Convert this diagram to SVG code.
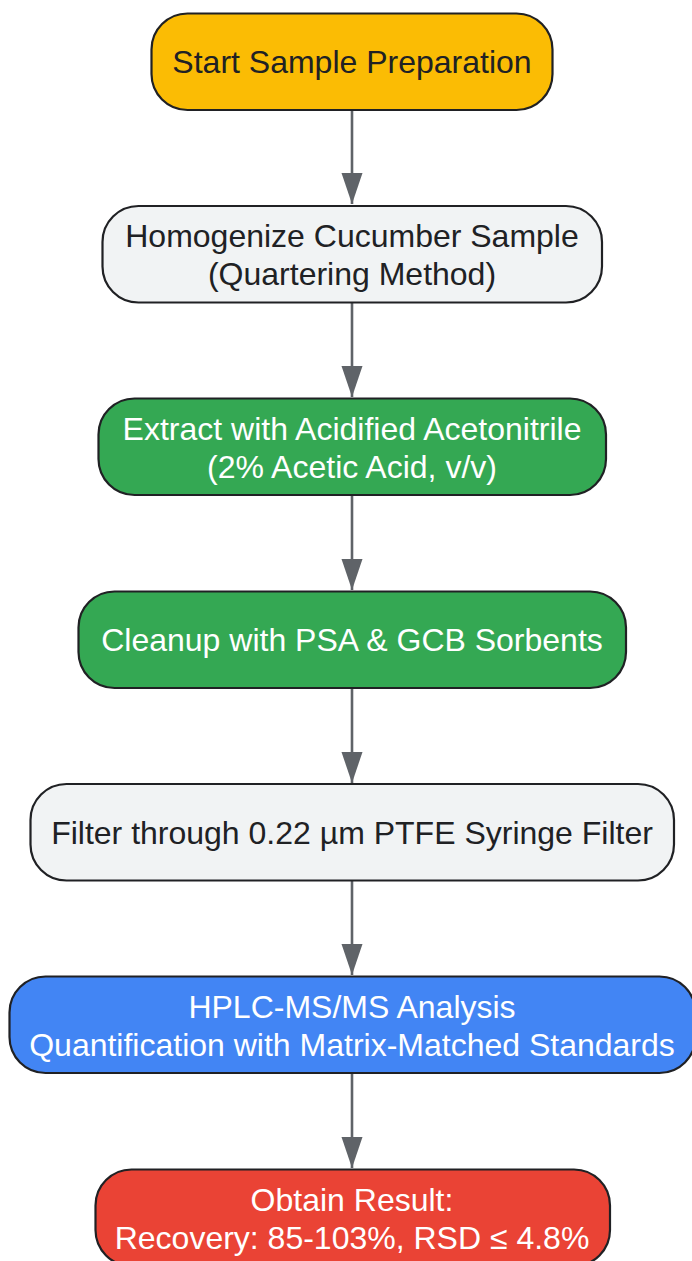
<svg xmlns="http://www.w3.org/2000/svg" width="692" height="1261" viewBox="0 0 692 1261">
<style>
.node rect{stroke:#202124;stroke-width:2.2}
.node text{font-family:"Liberation Sans",Arial,sans-serif;font-size:32px;text-anchor:middle}
.dark{fill:#202124}
.light{fill:#ffffff}
.edge{stroke:#5F6368;stroke-width:2.6;fill:none;marker-end:url(#arr)}
</style>
<defs>
<marker id="arr" markerUnits="userSpaceOnUse" markerWidth="32" markerHeight="22" refX="31" refY="10.5" orient="auto" viewBox="0 0 32 22">
<path d="M0,0 L31,10.5 L0,21 z" fill="#5F6368"/>
</marker>
</defs>
<rect width="692" height="1261" fill="#ffffff"/>
<g id="connectors">
<line class="edge" x1="352" y1="111" x2="352" y2="204"/>
<line class="edge" x1="352" y1="303" x2="352" y2="397"/>
<line class="edge" x1="352" y1="496" x2="352" y2="590"/>
<line class="edge" x1="352" y1="689" x2="352" y2="783"/>
<line class="edge" x1="352" y1="881" x2="352" y2="975"/>
<line class="edge" x1="352" y1="1074" x2="352" y2="1168"/>
</g>
<g id="start" class="node">
<rect x="151.5" y="13.5" width="401" height="96.5" rx="36" fill="#FBBC04"/>
<text class="dark" x="352" y="73">Start Sample Preparation</text>
</g>
<g id="homogenize" class="node">
<rect x="102.5" y="206" width="499.5" height="96.5" rx="36" fill="#F1F3F4"/>
<text class="dark" x="352" y="247">Homogenize Cucumber Sample</text>
<text class="dark" x="352" y="285">(Quartering Method)</text>
</g>
<g id="extract" class="node">
<rect x="98.5" y="398.5" width="507.5" height="96.5" rx="36" fill="#34A853"/>
<text class="light" x="352" y="440">Extract with Acidified Acetonitrile</text>
<text class="light" x="352" y="478">(2% Acetic Acid, v/v)</text>
</g>
<g id="cleanup" class="node">
<rect x="78.5" y="591.5" width="547.5" height="96.5" rx="36" fill="#34A853"/>
<text class="light" x="352" y="651">Cleanup with PSA &amp; GCB Sorbents</text>
</g>
<g id="filter" class="node">
<rect x="30.5" y="784" width="643.5" height="96.5" rx="36" fill="#F1F3F4"/>
<text class="dark" x="352" y="844">Filter through 0.22 µm PTFE Syringe Filter</text>
</g>
<g id="hplc" class="node">
<rect x="9.5" y="976.5" width="686" height="96.5" rx="36" fill="#4285F4"/>
<text class="light" x="352" y="1018">HPLC-MS/MS Analysis</text>
<text class="light" x="352" y="1056">Quantification with Matrix-Matched Standards</text>
</g>
<g id="result" class="node">
<rect x="95.5" y="1169.5" width="514.5" height="96.5" rx="36" fill="#EA4335"/>
<text class="light" x="352" y="1211">Obtain Result:</text>
<text class="light" x="352" y="1249">Recovery: 85-103%, RSD ≤ 4.8%</text>
</g>
</svg>
